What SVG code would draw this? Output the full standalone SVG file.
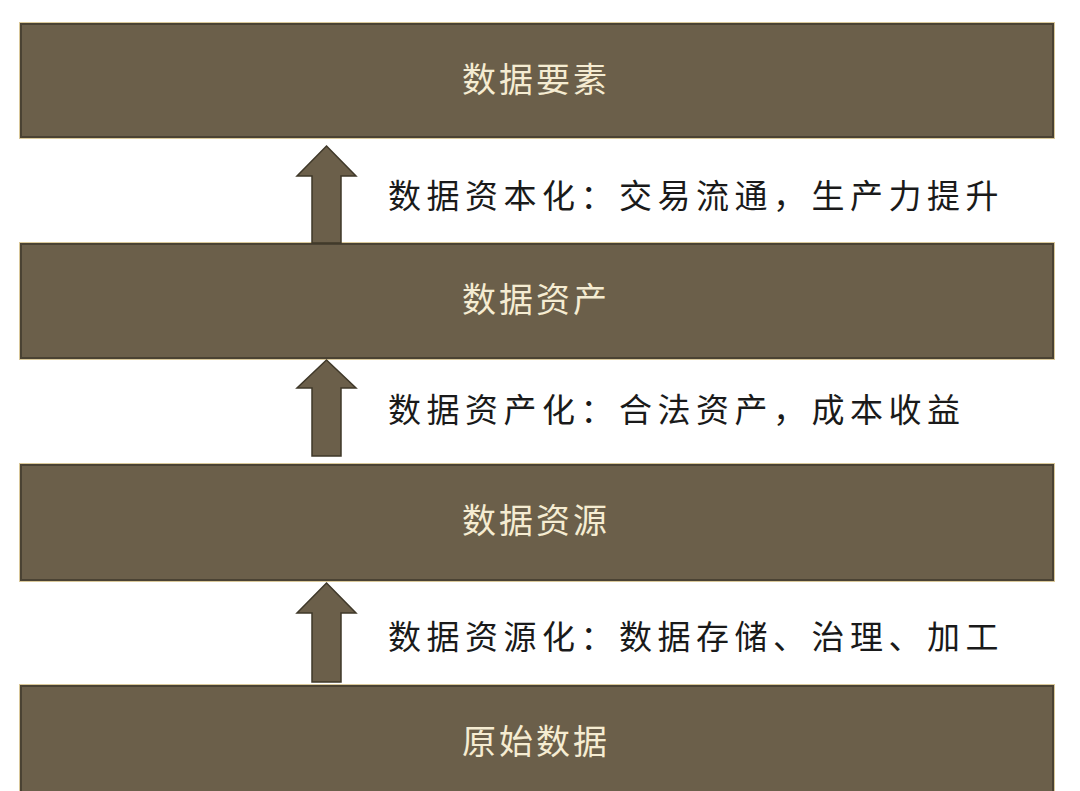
<svg xmlns="http://www.w3.org/2000/svg" width="1080" height="791" viewBox="0 0 1080 791">
<style>
.box{fill:#6b5f4a;stroke:#4a4233;stroke-width:2}
.edge{fill:none;stroke:#d9c89a;stroke-width:1}
.arrow{fill:#6b5f4a;stroke:#3f3829;stroke-width:1.5}
.title{font-family:"Noto Sans CJK SC","Noto Sans",sans-serif;font-size:34px;fill:#f5ecd2;letter-spacing:3px}
.label{font-family:"Noto Sans CJK SC","Noto Sans",sans-serif;font-size:33px;fill:#1a1a1a;letter-spacing:5.5px}
</style>
<rect width="1080" height="791" fill="#ffffff"/>
<g id="node-elements">
<rect class="edge" x="19.5" y="22.5" width="1035" height="116"/>
<rect class="box" x="21" y="24" width="1032" height="113"/>
<text class="title" x="462" y="92">数据要素</text>
</g>
<g id="node-assets">
<rect class="edge" x="19.5" y="242.5" width="1035" height="117"/>
<rect class="box" x="21" y="244" width="1032" height="114"/>
<text class="title" x="462" y="312">数据资产</text>
</g>
<g id="node-resources">
<rect class="edge" x="19.5" y="463.5" width="1035" height="118"/>
<rect class="box" x="21" y="465" width="1032" height="115"/>
<text class="title" x="462" y="533">数据资源</text>
</g>
<g id="node-raw">
<rect class="edge" x="19.5" y="684.5" width="1035" height="120"/>
<rect class="box" x="21" y="686" width="1032" height="118"/>
<text class="title" x="462" y="754">原始数据</text>
</g>
<g id="connectors">
<polygon class="arrow" points="326.5,146 356,176 341,176 341,243 312,243 312,176 297,176"/>
<polygon class="arrow" points="326.5,360 356,388 341,388 341,456 312,456 312,388 297,388"/>
<polygon class="arrow" points="326.5,583 356,613 341,613 341,682 312,682 312,613 297,613"/>
<text class="label" x="388" y="208">数据资本化：交易流通，生产力提升</text>
<text class="label" x="388" y="422">数据资产化：合法资产，成本收益</text>
<text class="label" x="388" y="649">数据资源化：数据存储、治理、加工</text>
</g>
</svg>
